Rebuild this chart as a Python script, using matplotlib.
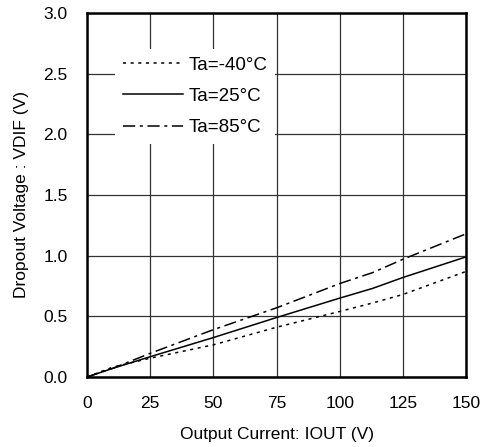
import matplotlib
matplotlib.use("Agg")
import matplotlib.pyplot as plt

plt.rcParams['font.family'] = ['Liberation Sans', 'DejaVu Sans']

current = [0, 10, 25, 50, 75, 100, 113, 125, 150]
v_m40 = [0.0, 0.08, 0.155, 0.265, 0.41, 0.54, 0.61, 0.68, 0.87]
v_25 = [0.0, 0.07, 0.167, 0.325, 0.49, 0.65, 0.73, 0.82, 0.99]
v_85 = [0.0, 0.07, 0.195, 0.39, 0.57, 0.77, 0.86, 0.97, 1.18]
labels = ["Ta=-40°C", "Ta=25°C", "Ta=85°C"]
xticks = [0, 25, 50, 75, 100, 125, 150]
yticks = [0.0, 0.5, 1.0, 1.5, 2.0, 2.5, 3.0]

fig = plt.figure(figsize=(4.86, 4.47), dpi=100)
ax = fig.add_axes([0.179, 0.1566, 0.78, 0.8144])

ax.plot(current, v_m40, color='black', lw=1.1, linestyle=(0, (2, 3)), label=labels[0])
ax.plot(current, v_25, color='black', lw=1.1, linestyle='-', label=labels[1])
ax.plot(current, v_85, color='black', lw=1.1, linestyle=(0, (8, 3, 2, 3)), label=labels[2])

ax.set_xlim(0, 150)
ax.set_ylim(0, 3.0)
ax.set_xticks(xticks)
ax.set_yticks(yticks)
ax.set_yticklabels([f"{t:.1f}" for t in yticks])
ax.grid(True, color='#333333', lw=0.9)
ax.tick_params(length=0, labelsize=12.5)
ax.tick_params(axis='y', pad=14)
ax.tick_params(axis='x', pad=14)
for s in ax.spines.values():
    s.set_linewidth(1.8)

ax.set_xlabel("Output Current: IOUT (V)", fontsize=12.5, labelpad=11)
ax.set_ylabel("Dropout Voltage : VDIF (V)", fontsize=12.5, labelpad=10)

leg = ax.legend(loc='upper left', bbox_to_anchor=(0.074, 0.901), frameon=True,
                fontsize=13.5, handlelength=3.2, handletextpad=0.35,
                labelspacing=0.76, borderaxespad=0, borderpad=0.4)
leg.get_frame().set_edgecolor('none')
leg.get_frame().set_facecolor('white')
leg.get_frame().set_alpha(1)

fig.savefig("out.png", dpi=100)
